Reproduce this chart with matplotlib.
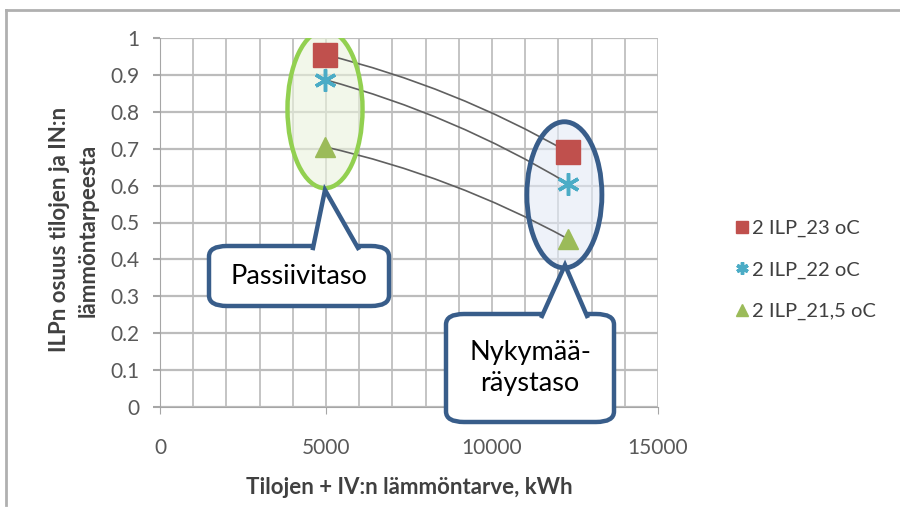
import matplotlib
matplotlib.use('Agg')
import matplotlib.pyplot as plt
from matplotlib.patches import Ellipse, FancyBboxPatch, Polygon
from matplotlib.lines import Line2D

plt.rcParams['font.family'] = ['Lato', 'DejaVu Sans']

# heat demand (kWh) for the two building levels
demand = [4970, 12300]
share_23 = [0.955, 0.69]
share_22 = [0.887, 0.605]
share_215 = [0.705, 0.455]

series = [
    ('2 ILP_23 oC', share_23, 's', '#c0504d', 17),
    ('2 ILP_22 oC', share_22, (6, 2, 0), '#4bacc6', 16),
    ('2 ILP_21,5 oC', share_215, '^', '#9bbb59', 15),
]

yticks = [i / 10 for i in range(11)]
ylabels = ['0', '0.1', '0.2', '0.3', '0.4', '0.5', '0.6', '0.7', '0.8', '0.9', '1']

W, H = 900, 526
fig = plt.figure(figsize=(9, 5.26), dpi=100, facecolor='white')
ax = fig.add_axes([160 / W, 1 - 407 / H, 498 / W, 369 / H])

ax.set_xlim(0, 15000)
ax.set_ylim(0, 1)
ax.set_xticks([0, 5000, 10000, 15000])
ax.set_yticks(yticks)
ax.set_yticklabels(ylabels)
ax.set_xticks(range(0, 15001, 1000), minor=True)
for s in ax.spines.values():
    s.set_visible(False)
ax.spines['left'].set_visible(True)
ax.spines['bottom'].set_visible(True)
ax.spines['left'].set_color('#a6a6a6')
ax.spines['bottom'].set_color('#a6a6a6')
ax.tick_params(which='major', length=5, color='#a6a6a6', labelsize=15, labelcolor='#595959')
ax.tick_params(which='minor', length=0)
ax.tick_params(axis='x', pad=17)
ax.tick_params(axis='y', pad=10, width=1.5)
ax.xaxis.grid(True, which='both', color='#c4c4c4', linewidth=1.4)
ax.yaxis.grid(True, which='major', color='#bcbcbc', linewidth=1.6)
ax.set_axisbelow(True)

# ellipses marking the two levels
ax.add_patch(Ellipse((4970, 0.807), 2260, 0.428, facecolor='#eaf3dc', alpha=0.6,
                     edgecolor='none', zorder=1))
ax.add_patch(Ellipse((4970, 0.807), 2260, 0.428, facecolor='none',
                     edgecolor='#92d050', linewidth=3.2, zorder=5))
ax.add_patch(Ellipse((12180, 0.575), 2260, 0.396, facecolor='#e3eaf6', alpha=0.6,
                     edgecolor='none', zorder=1))
ax.add_patch(Ellipse((12180, 0.575), 2260, 0.396, facecolor='none',
                     edgecolor='#385d8a', linewidth=3.5, zorder=5))

# connecting lines between the levels
for label, vals, marker, color, ms in series:
    ax.annotate('', xy=(demand[1], vals[1]), xytext=(demand[0], vals[0]),
                arrowprops=dict(arrowstyle='-', color='#606060', lw=1.2,
                                connectionstyle='arc3,rad=-0.07', shrinkA=0, shrinkB=0),
                zorder=3)

for label, vals, marker, color, ms in series:
    ax.plot(demand, vals, linestyle='none', marker=marker, markersize=ms,
            color=color, markeredgecolor=color,
            markeredgewidth=2.5 if marker not in ('s', '^') else 1,
            label=label, zorder=4)

leg = ax.legend(loc='center left', bbox_to_anchor=(718 / W, 1 - 270 / H),
                bbox_transform=fig.transFigure, frameon=False, fontsize=14.5,
                labelcolor='#404040', handlelength=0.6, handletextpad=0.2,
                labelspacing=1.2, markerscale=0.55)

ax.set_xlabel('Tilojen + IV:n lämmöntarve, kWh', fontsize=16, fontweight='bold',
              color='#404040', labelpad=14)
ax.set_ylabel('ILPn osuus tilojen ja IN:n\nlämmöntarpeesta', fontsize=16,
              fontweight='bold', color='#404040', linespacing=1.45)
ax.yaxis.set_label_coords(-0.124, 0.48)


def px(x, y):
    return (x / W, 1 - y / H)


def callout(x0, y0, x1, y1, base, tip, text):
    box = FancyBboxPatch(px(x0, y1), (x1 - x0) / W, (y1 - y0) / H,
                         boxstyle='round,pad=0,rounding_size=0.02',
                         transform=fig.transFigure, facecolor='white',
                         edgecolor='#385d8a', linewidth=3.2, zorder=10)
    fig.add_artist(box)
    pts = [px(base[0], y0 + 2), px(*tip), px(base[1], y0 + 2)]
    fill = Polygon([px(base[0], y0 + 4), px(*tip), px(base[1], y0 + 4)],
                   closed=True, transform=fig.transFigure, facecolor='white',
                   edgecolor='none', zorder=11)
    fig.add_artist(fill)
    edge = Line2D([p[0] for p in pts], [p[1] for p in pts], transform=fig.transFigure,
                  color='#385d8a', linewidth=3.2, zorder=12, solid_joinstyle='miter')
    fig.add_artist(edge)
    fig.text((x0 + x1) / 2 / W, 1 - (y0 + y1) / 2 / H, text, ha='center', va='center',
             fontsize=19.5, color='black', zorder=13, linespacing=1.3)


callout(209, 246, 389, 306, (313, 358), (325, 190), 'Passiivitaso')
callout(446, 314, 614, 422, (542, 587), (565, 265), 'Nykymää-\nräystaso')

# chart frame edges
fig.add_artist(Line2D([6 / W, 6 / W], [1 - 10 / H, 1 - 505 / H], transform=fig.transFigure,
                      color='#b0b0b0', linewidth=2))
fig.add_artist(Line2D([6 / W, 1], [1 - 10 / H, 1 - 10 / H], transform=fig.transFigure,
                      color='#b0b0b0', linewidth=2))

fig.savefig('out.png', dpi=100, facecolor='white')
